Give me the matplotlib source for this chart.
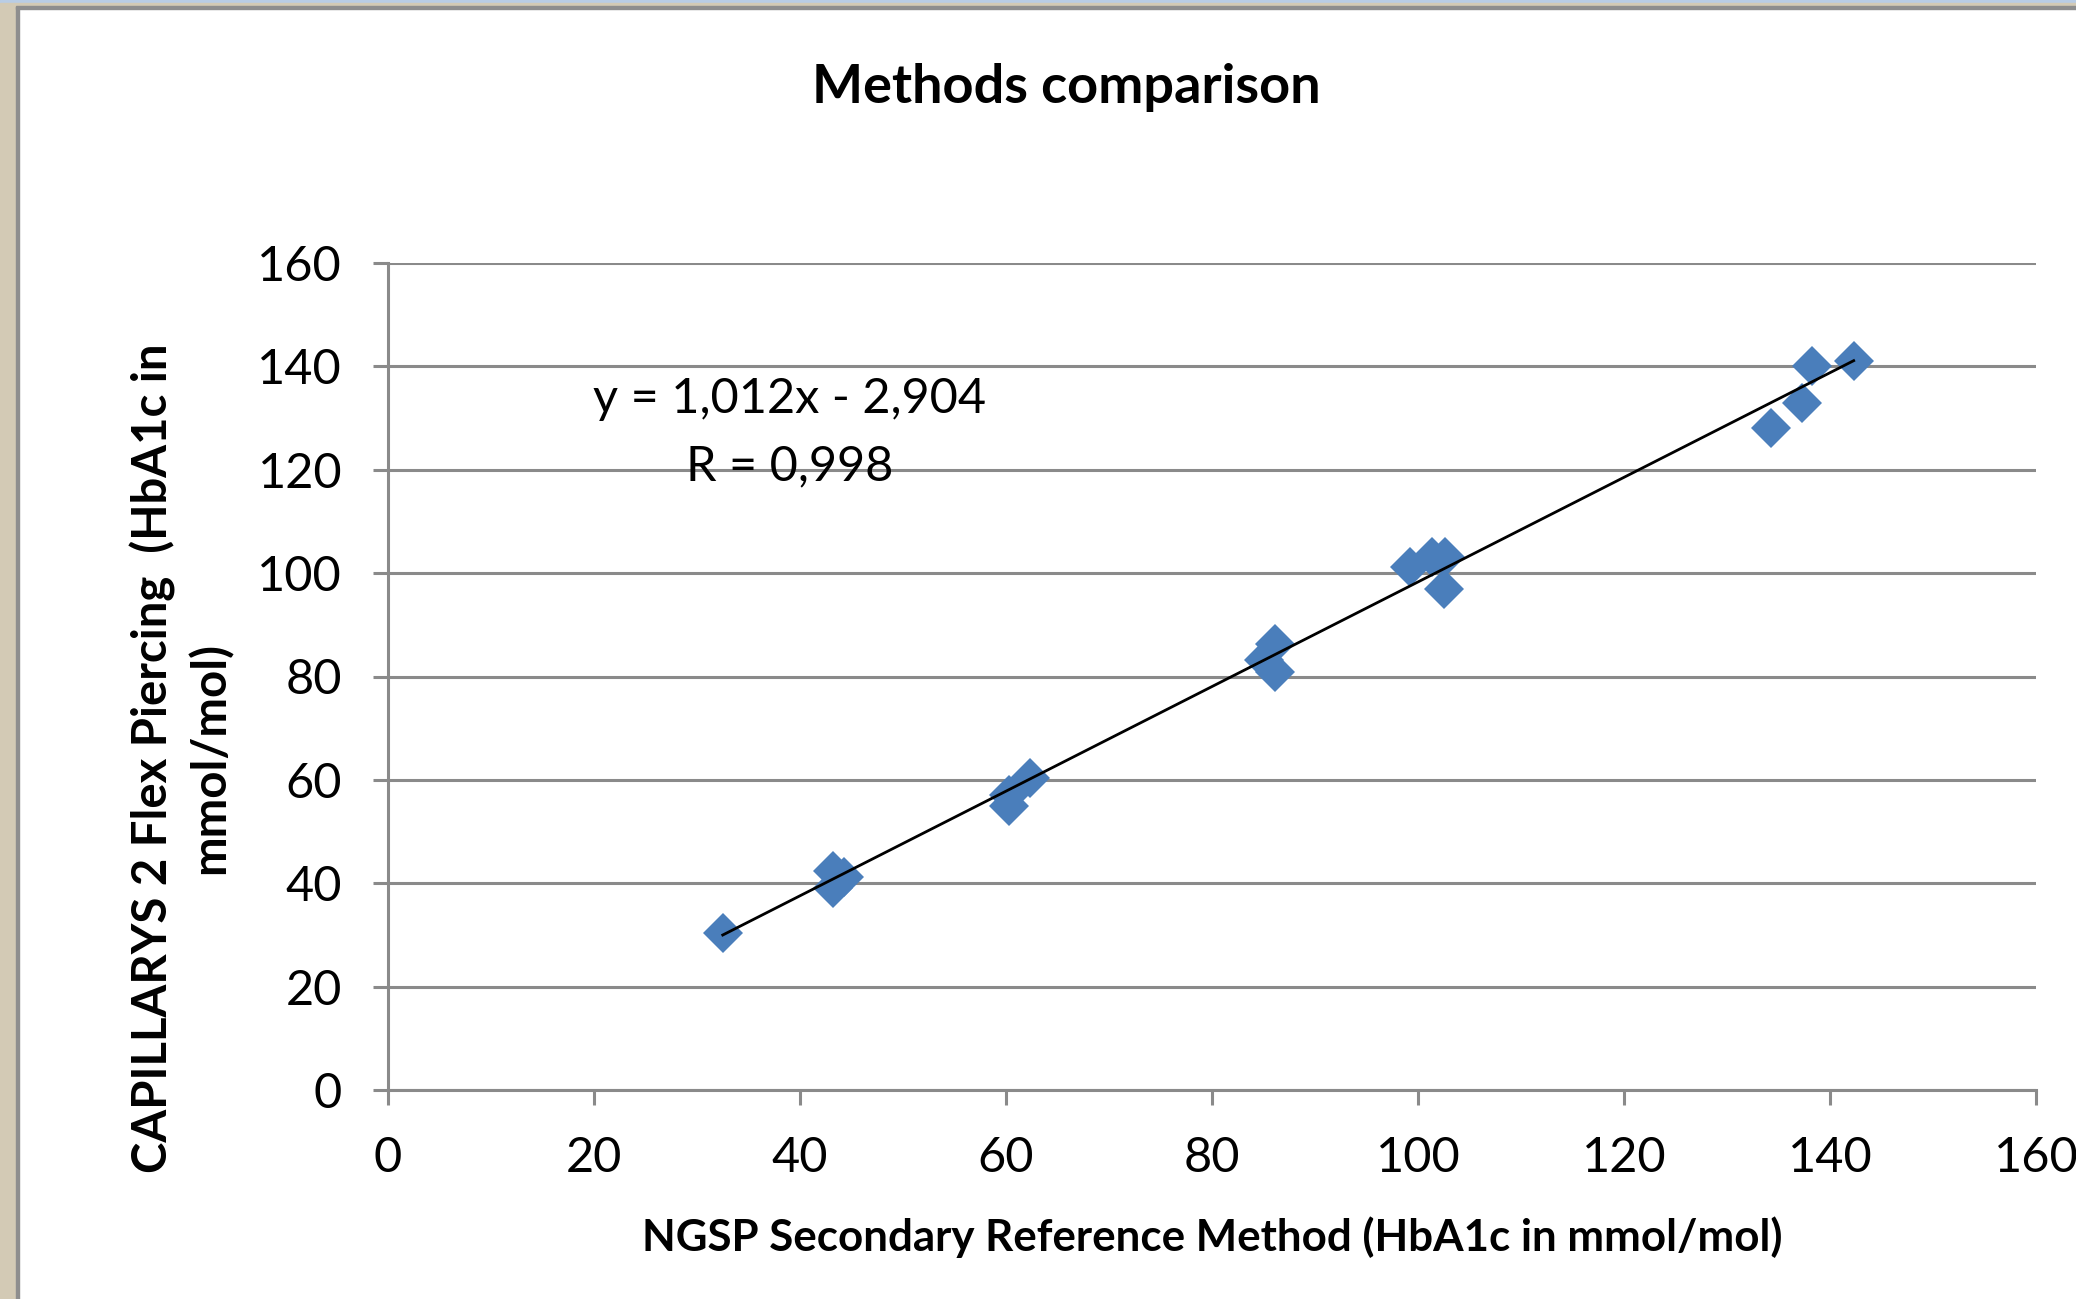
import numpy as np
import matplotlib
matplotlib.use('Agg')
from matplotlib import pyplot as plt
from matplotlib.patches import Rectangle

plt.rcParams['font.family'] = ['Lato', 'DejaVu Sans']

# reference method (x) vs capillarys (y), HbA1c in mmol/mol
ngsp = [32.5, 43.2, 44.3, 43.2, 62.3, 60.3, 60.3, 86.1, 85.0, 86.1,
        99.2, 101.4, 102.6, 102.5, 138.3, 142.3, 137.3, 134.3]
capillarys = [30.3, 42.4, 41.3, 39.0, 60.3, 57.1, 55.0, 86.2, 83.2, 80.9,
              101.2, 103.2, 103.2, 97.0, 140.0, 141.0, 132.9, 128.0]
slope = 1.012
intercept = -2.904
r_value = 0.998
ticks = [0, 20, 40, 60, 80, 100, 120, 140, 160]

W, H = 2076, 1299
fig = plt.figure(figsize=(W / 100, H / 100), dpi=100)

# window frame bits on the top and left edge
fig.patches.append(Rectangle((0, 0), 16 / W, 1, transform=fig.transFigure, color='#d3cab5', zorder=0))
fig.patches.append(Rectangle((16 / W, 0), 3 / W, 1, transform=fig.transFigure, color='#8e8e8e', zorder=0))
fig.patches.append(Rectangle((0, 1 - 3 / H), 1, 3 / H, transform=fig.transFigure, color='#b9cde5', zorder=0))
fig.patches.append(Rectangle((0, 1 - 6 / H), 1, 3 / H, transform=fig.transFigure, color='#d3cab5', zorder=0))
fig.patches.append(Rectangle((16 / W, 1 - 9 / H), 1, 3 / H, transform=fig.transFigure, color='#8e8e8e', zorder=0))

ax = fig.add_axes([388 / W, 1 - 1090 / H, (2036 - 388) / W, (1090 - 263) / H])
ax.set_xlim(0, 160)
ax.set_ylim(0, 160)
ax.set_xticks(ticks)
ax.set_yticks(ticks)
ax.set_axisbelow(True)
ax.yaxis.grid(True, color='#8a8a8a', linewidth=2.2)
for side in ['top', 'right']:
    ax.spines[side].set_visible(False)
for side in ['left', 'bottom']:
    ax.spines[side].set_color('#8a8a8a')
    ax.spines[side].set_linewidth(2.2)
ax.tick_params(axis='both', direction='out', length=11, width=2.2, color='#8a8a8a',
               labelsize=35, pad=22)
for lab in ax.get_xticklabels() + ax.get_yticklabels():
    lab.set_clip_on(False)

ax.plot(ngsp, capillarys, linestyle='none', marker='D', markersize=20,
        color='#4a7ebb', markeredgewidth=0, clip_on=False)

xs = np.array([min(ngsp), max(ngsp)])
ax.plot(xs, slope * xs + intercept, color='black', linewidth=2)

ax.text(39, 131, 'y = 1,012x - 2,904', fontsize=35, ha='center', va='baseline')
ax.text(39, 118, 'R = 0,998', fontsize=35, ha='center', va='baseline')

fig.text(1066 / W, 1 - 103 / H, 'Methods comparison', fontsize=39, fontweight='bold',
         ha='center', va='baseline')
fig.text(1212 / W, 1 - 1251 / H, 'NGSP Secondary Reference Method (HbA1c in mmol/mol)',
         fontsize=31.6, fontweight='bold', ha='center', va='baseline')
fig.text(181 / W, 1 - 758 / H, 'CAPILLARYS 2 Flex Piercing  (HbA1c in\nmmol/mol)',
         fontsize=34, fontweight='bold', ha='center', va='center', rotation=90,
         multialignment='center', linespacing=1.3)

fig.savefig('out.png', dpi=100, facecolor='white')
